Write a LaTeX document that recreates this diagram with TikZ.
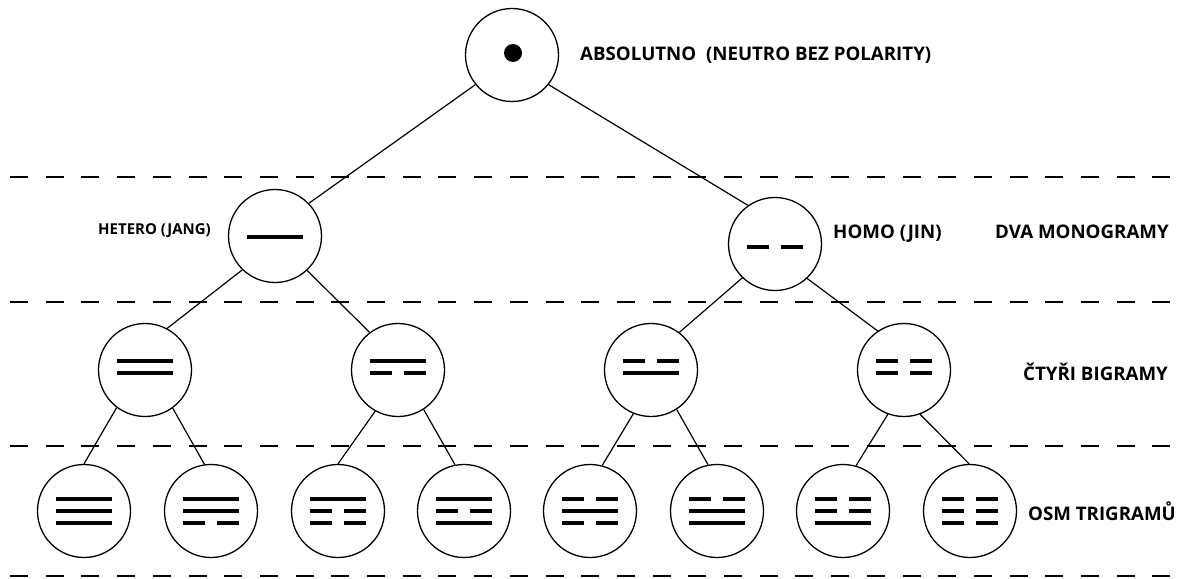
\documentclass[tikz,border=0pt]{standalone}
\usepackage{fontspec}
\setmainfont{Open Sans}
\tikzset{
  gram/.style={circle, draw, line width=1.3pt, minimum size=93pt, inner sep=0pt},
  link/.style={line width=1.2pt},
  bar/.style={line width=4pt},
  level/.style={line width=1.7pt, dash pattern=on 18pt off 17.7pt},
  lbl/.style={font=\bfseries\fontsize{18.7}{22}\selectfont, inner sep=0pt, anchor=base west}
}
% solid (yang) and broken (yin) lines, drawn relative to a node centre
\newcommand\yangbar[2]{\draw[bar] ([shift={(-28,#2)}]#1.center) -- ([shift={(28,#2)}]#1.center);}
\newcommand\yinbar[2]{\draw[bar] ([shift={(-28,#2)}]#1.center) -- ([shift={(-6,#2)}]#1.center)
  ([shift={(6,#2)}]#1.center) -- ([shift={(28,#2)}]#1.center);}
\begin{document}
\begin{tikzpicture}[x=1pt, y=-1pt]
\useasboundingbox (0,0) rectangle (1185,578);
\fill[white] (0,0) rectangle (1185,578);

% level separators
\foreach \yy in {177, 302, 446, 576}
  \draw[level] (10,\yy) -- (1185,\yy);

% nodes
\node[gram] (top) at (512,55) {};
\node[gram] (m1) at (275,236) {};
\node[gram] (m2) at (775,244) {};
\node[gram] (b1) at (145,370) {};
\node[gram] (b2) at (398,370) {};
\node[gram] (b3) at (651,370) {};
\node[gram] (b4) at (904,370) {};
\node[gram] (t1) at (84,511) {};
\node[gram] (t2) at (211,511) {};
\node[gram] (t3) at (338,511) {};
\node[gram] (t4) at (464,511) {};
\node[gram] (t5) at (590,511) {};
\node[gram] (t6) at (717,511) {};
\node[gram] (t7) at (843,511) {};
\node[gram] (t8) at (970,511) {};

% connectors
\draw[link] (top.219) -- (m1.44);
\draw[link] (top.321) -- (m2.125);
\draw[link] (m1.226) -- (b1.62);
\draw[link] (m1.313) -- (b2.127);
\draw[link] (m2.226) -- (b3.53);
\draw[link] (m2.313) -- (b4.124);
\draw[link] (b1.233) -- (t1.90);
\draw[link] (b1.306) -- (t2.98);
\draw[link] (b2.241) -- (t3.90);
\draw[link] (b2.303) -- (t4.101);
\draw[link] (b3.248) -- (t5.75);
\draw[link] (b3.303) -- (t6.101);
\draw[link] (b4.250) -- (t7.74);
\draw[link] (b4.290) -- (t8.91);

% symbols
\fill ([shift={(1,-2)}]top.center) circle (9pt);
\yangbar{m1}{1}
\yinbar{m2}{3}
\yangbar{b1}{-9} \yangbar{b1}{3}
\yangbar{b2}{-9} \yinbar{b2}{3}
\yinbar{b3}{-9}  \yangbar{b3}{3}
\yinbar{b4}{-9}  \yinbar{b4}{3}
\yangbar{t1}{-12} \yangbar{t1}{0} \yangbar{t1}{12}
\yangbar{t2}{-12} \yangbar{t2}{0} \yinbar{t2}{12}
\yangbar{t3}{-12} \yinbar{t3}{0}  \yinbar{t3}{12}
\yangbar{t4}{-12} \yinbar{t4}{0}  \yangbar{t4}{12}
\yinbar{t5}{-12}  \yangbar{t5}{0} \yinbar{t5}{12}
\yinbar{t6}{-12}  \yangbar{t6}{0} \yangbar{t6}{12}
\yinbar{t7}{-12}  \yinbar{t7}{0}  \yangbar{t7}{12}
\yinbar{t8}{-12}  \yinbar{t8}{0}  \yinbar{t8}{12}

% labels
\node[lbl] (labsolute) at (580,60.5) {ABSOLUTNO\ \ (NEUTRO BEZ POLARITY)};
\node[lbl, anchor=base east, font=\bfseries\fontsize{15}{18}\selectfont] (lhetero) at (211,234) {HETERO (JANG)};
\node[lbl] (lhomo) at (833,238) {HOMO (JIN)};
\node[lbl] (lmono) at (995,238) {DVA MONOGRAMY};
\node[lbl] (lbi) at (1023,380) {ČTYŘI BIGRAMY};
\node[lbl] (ltri) at (1028,520) {OSM TRIGRAMŮ};
\end{tikzpicture}
\end{document}
